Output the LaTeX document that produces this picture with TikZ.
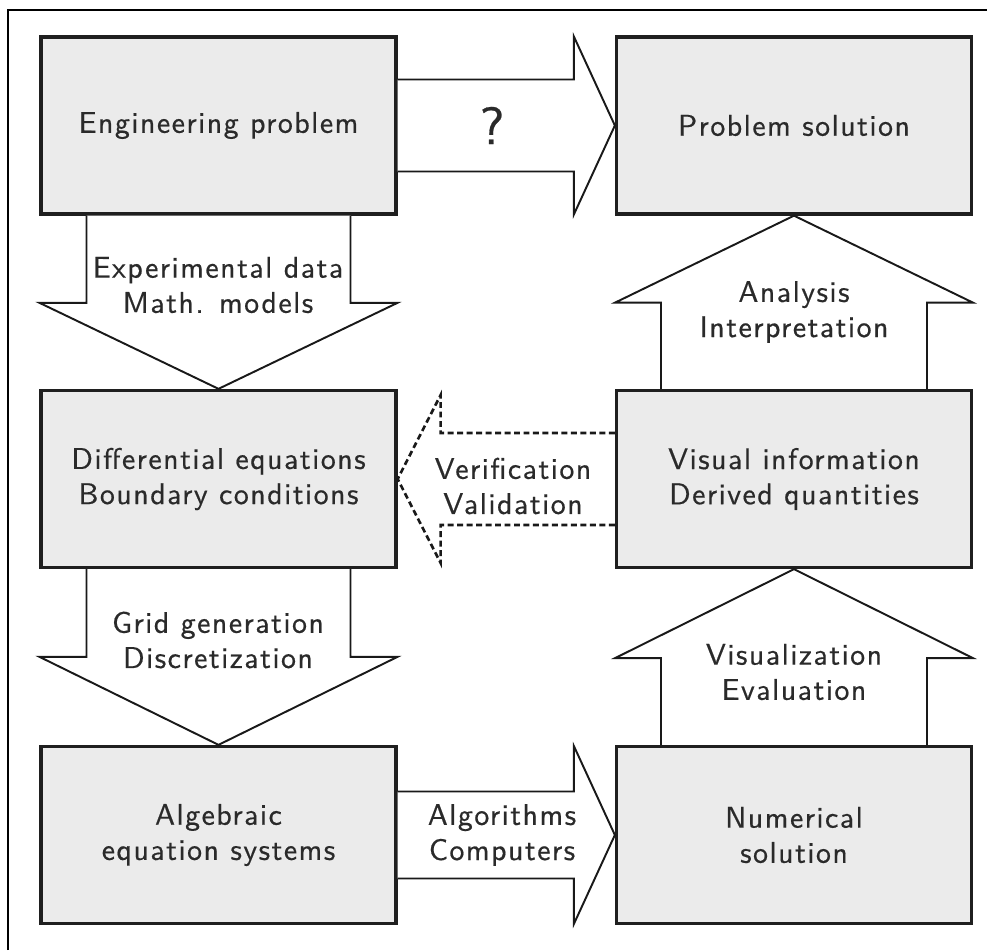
\documentclass[tikz,border=0pt]{standalone}
\usepackage{fontspec}
\setsansfont{lmsans10-regular.otf}[LetterSpace=5, FakeBold=0.5]
\usepackage{tikz}
\usetikzlibrary{calc}

\definecolor{boxgray}{HTML}{EBEBEB}
\definecolor{textgray}{HTML}{2A2A2A}

\tikzset{
  box/.style={draw=black!88, line width=1.9pt, fill=boxgray, minimum width=7.1cm,
    minimum height=3.54cm, inner sep=0pt, text=textgray, align=center},
  bigarrow/.style={draw=black!90, line width=1.1pt, fill=white, line join=miter},
  dasharrow/.style={draw=black!90, line width=1.5pt, dash pattern=on 3.4pt off 2pt},
  lbl/.style={text=textgray, align=center, inner sep=0pt}
}

\begin{document}
\begin{tikzpicture}[x=0.02cm, y=-0.02cm,
  every node/.style={font=\sffamily\fontsize{17}{20}\selectfont}]
                    \useasboundingbox (0,0) rectangle (987,950);
                    % Frame
                    \draw[line width=1pt] (8,950) -- (8,10) -- (987,10);
                    % Nodes
                    \node[box] (eng) at (218.5,125.5) {Engineering problem};
                    \node[box] (sol) at (794,125.5) {Problem solution};
                    \node[box] (diff) at (218.5,479) {Differential equations\\Boundary conditions};
                    \node[box] (vis) at (794,479) {Visual information\\Derived quantities};
                    \node[box] (alg) at (218.5,835) {Algebraic\\equation systems};
                    \node[box] (num) at (794,835) {Numerical\\solution};
                    % Edges
                    \draw[bigarrow] ($(eng.east)+(0,-46)$) -- ($(sol.west)+(-41,-46)$) -- ($(sol.west)+(-41,-89)$)
                      -- (sol.west) -- ($(sol.west)+(-41,89)$) -- ($(sol.west)+(-41,46)$) -- ($(eng.east)+(0,46)$);
                    \draw[bigarrow] ($(eng.south)+(-132,0)$) -- ($(diff.north)+(-132,-86)$) -- ($(diff.north)+(-179,-86)$)
                      -- (diff.north) -- ($(diff.north)+(179,-86)$) -- ($(diff.north)+(132,-86)$) -- ($(eng.south)+(132,0)$);
                    \draw[bigarrow] ($(diff.south)+(-132,0)$) -- ($(alg.north)+(-132,-88)$) -- ($(alg.north)+(-179,-88)$)
                      -- (alg.north) -- ($(alg.north)+(179,-88)$) -- ($(alg.north)+(132,-88)$) -- ($(diff.south)+(132,0)$);
                    \draw[bigarrow] ($(vis.north)+(-133,0)$) -- ($(sol.south)+(-133,87)$) -- ($(sol.south)+(-179,87)$)
                      -- (sol.south) -- ($(sol.south)+(179,87)$) -- ($(sol.south)+(133,87)$) -- ($(vis.north)+(133,0)$);
                    \draw[bigarrow] ($(num.north)+(-133,0)$) -- ($(vis.south)+(-133,89)$) -- ($(vis.south)+(-179,89)$)
                      -- (vis.south) -- ($(vis.south)+(179,89)$) -- ($(vis.south)+(133,89)$) -- ($(num.north)+(133,0)$);
                    \draw[bigarrow] ($(alg.east)+(0,-43.5)$) -- ($(num.west)+(-41,-43.5)$) -- ($(num.west)+(-41,-89)$)
                      -- (num.west) -- ($(num.west)+(-41,89)$) -- ($(num.west)+(-41,43.5)$) -- ($(alg.east)+(0,43.5)$);
                    \draw[dasharrow] ($(vis.west)+(0,-46)$) -- ($(diff.east)+(43,-46)$) -- ($(diff.east)+(43,-84)$)
                      -- (diff.east) -- ($(diff.east)+(43,84)$) -- ($(diff.east)+(43,46)$) -- ($(vis.west)+(0,46)$);
                    % Labels
                    \node[lbl, font=\sffamily\fontsize{30}{36}\selectfont] (q) at (492,125.5) {?};
                    \node[lbl] (expdata) at (218,285) {Experimental data\\Math. models};
                    \node[lbl] (grid) at (218,640) {Grid generation\\Discretization};
                    \node[lbl] (ana) at (794,312) {Analysis\\Interpretation};
                    \node[lbl] (visu) at (794,672) {Visualization\\Evaluation};
                    \node[lbl] (algo) at (502,835) {Algorithms\\Computers};
                    \node[lbl] (ver) at (513,486) {Verification\\Validation};
                \end{tikzpicture}
\end{document}
